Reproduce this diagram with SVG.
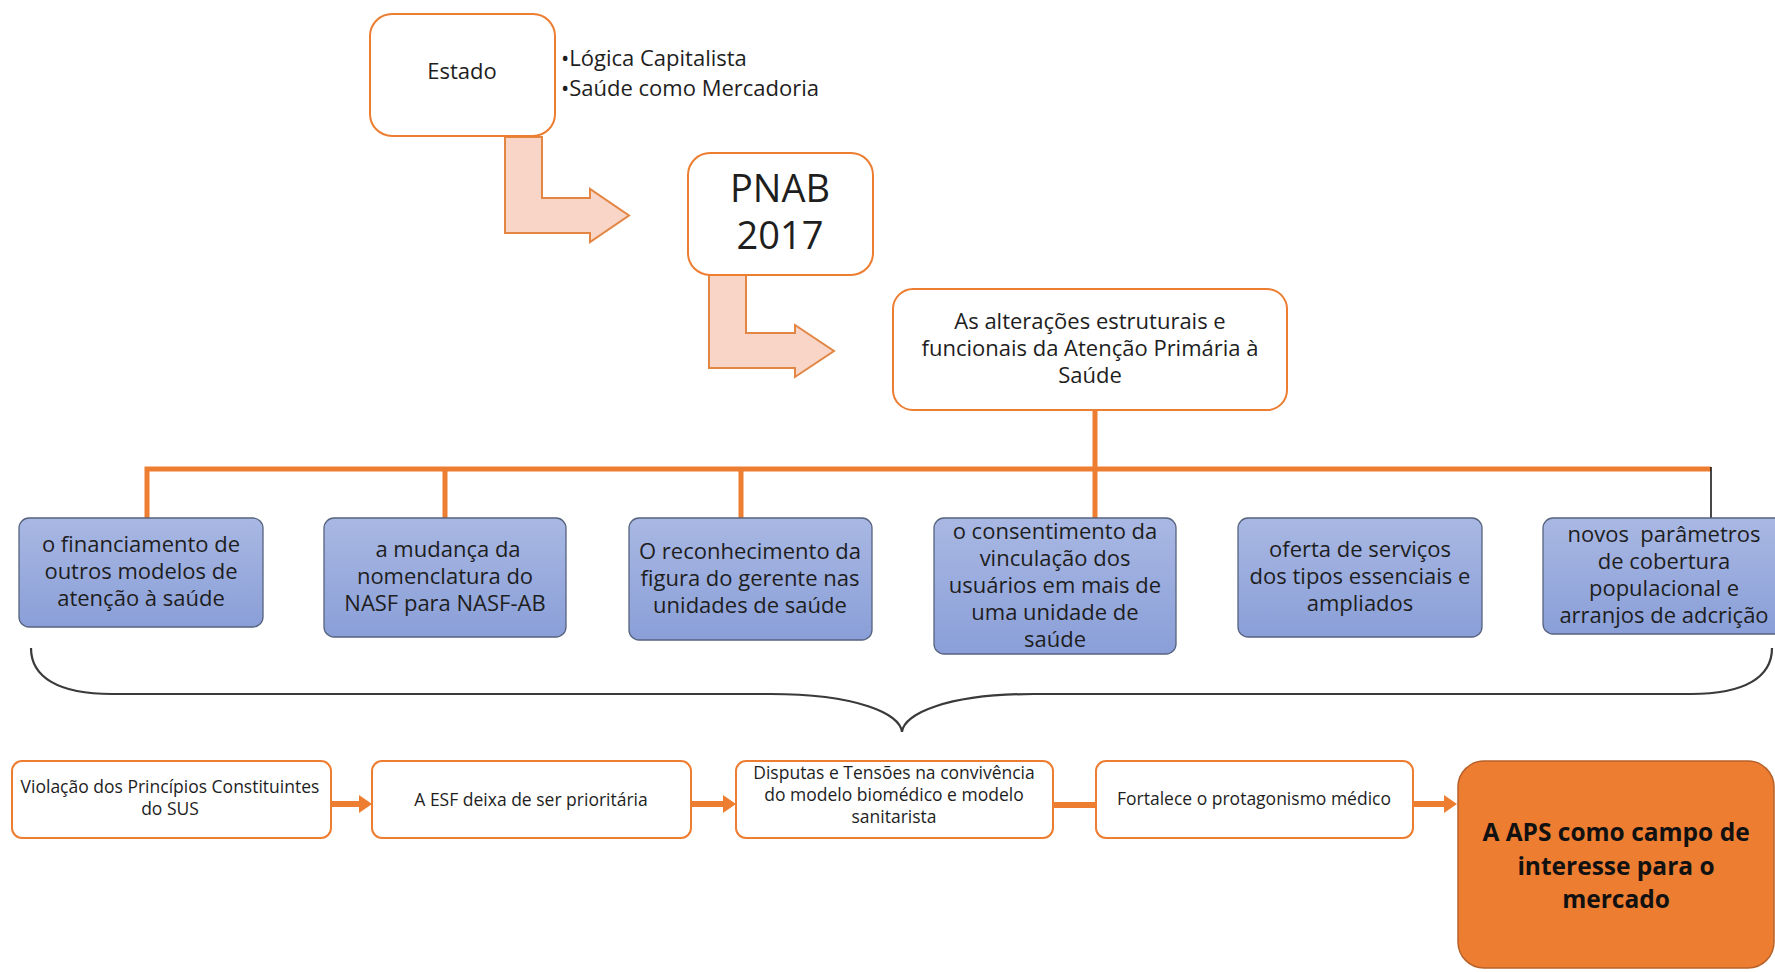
<svg xmlns="http://www.w3.org/2000/svg" width="1775" height="972" viewBox="0 0 1775 972">
<defs>
<linearGradient id="blueGrad" x1="0" y1="0" x2="0" y2="1">
<stop offset="0" stop-color="#A9B8E3"/>
<stop offset="1" stop-color="#8A9FD8"/>
</linearGradient>
<marker id="head" markerUnits="userSpaceOnUse" markerWidth="14" markerHeight="18" refX="0" refY="9" orient="auto" viewBox="0 0 14 18">
<path d="M0,0 L13,9 L0,18 z" fill="#ED7D31"/>
</marker>
</defs>
<style>
text{font-family:"Open Sans","Noto Sans",sans-serif;fill:#1e1e1e;text-anchor:middle}
.wbox{fill:#fff;stroke:#ED7D31;stroke-width:2}
.bbox{fill:url(#blueGrad);stroke:#56637F;stroke-width:1.3}
.bent{fill:#F8D5C7;stroke:#E38543;stroke-width:2;stroke-linejoin:miter}
.t22{font-size:22px}
.t21{font-size:22px}
.t17{font-size:17.5px}
.conn{fill:none;stroke:#ED7D31;stroke-width:5}
.arr{fill:none;stroke:#ED7D31;stroke-width:6}
.brace{fill:none;stroke:#3a3a3a;stroke-width:2.2}
.big{font-size:24.5px;font-weight:bold;fill:#111}
</style>
<rect width="1775" height="972" fill="#fff"/>

<g id="connectors">
<polygon class="bent" points="505,137 542,137 542,198 590,198 590,189 629,215.5 590,242 590,233 505,233"/>
<polygon class="bent" points="709,275 746,275 746,333 795,333 795,325 834,351 795,377 795,368 709,368"/>
<path class="conn" d="M147,518 V469 H1711" stroke-linejoin="miter"/>
<line class="conn" x1="1095" y1="410" x2="1095" y2="518"/>
<line class="conn" x1="445" y1="469" x2="445" y2="518"/>
<line class="conn" x1="741" y1="469" x2="741" y2="518"/>
<line x1="1711" y1="467" x2="1711" y2="518" stroke="#1a1a1a" stroke-width="1.6"/>
<path class="brace" d="M31,648 C31,677 58,694 112,694 L770,694 C858,694 900,714 902,732 C904,714 946,694 1034,694 L1691,694 C1745,694 1772,677 1772,648"/>
<line class="arr" x1="331" y1="804" x2="359" y2="804" marker-end="url(#head)"/>
<line class="arr" x1="691" y1="804" x2="723" y2="804" marker-end="url(#head)"/>
<line class="arr" x1="1053" y1="805" x2="1096" y2="805"/>
<line class="arr" x1="1413" y1="804" x2="1444" y2="804" marker-end="url(#head)"/>
</g>

<g id="estado">
<rect class="wbox" x="370" y="14" width="185" height="122" rx="22"/>
<text class="t22" x="462" y="79">Estado</text>
</g>
<g id="bullets">
<text class="t22" style="text-anchor:start"><tspan x="561" y="66">•Lógica Capitalista</tspan><tspan x="561" y="96">•Saúde como Mercadoria</tspan></text>
</g>

<g id="pnab">
<rect class="wbox" x="688" y="153" width="185" height="122" rx="22"/>
<text style="font-size:38px"><tspan x="780" y="202">PNAB</tspan><tspan x="780" y="249">2017</tspan></text>
</g>

<g id="alteracoes">
<rect class="wbox" x="893" y="289" width="394" height="121" rx="20"/>
<text class="t22"><tspan x="1090" y="329">As alterações estruturais e</tspan><tspan x="1090" y="356">funcionais da Atenção Primária à</tspan><tspan x="1090" y="383">Saúde</tspan></text>
</g>

<g id="b1">
<rect class="bbox" x="19" y="518" width="244" height="109" rx="10"/>
<text class="t21"><tspan x="141" y="552">o financiamento de</tspan><tspan x="141" y="579">outros modelos de</tspan><tspan x="141" y="606">atenção à saúde</tspan></text>
</g>
<g id="b2">
<rect class="bbox" x="324" y="518" width="242" height="119" rx="10"/>
<text class="t21"><tspan x="448" y="557">a mudança da</tspan><tspan x="445" y="584">nomenclatura do</tspan><tspan x="445" y="611">NASF para NASF-AB</tspan></text>
</g>
<g id="b3">
<rect class="bbox" x="629" y="518" width="243" height="122" rx="10"/>
<text class="t21"><tspan x="750" y="559">O reconhecimento da</tspan><tspan x="750" y="586">figura do gerente nas</tspan><tspan x="750" y="613">unidades de saúde</tspan></text>
</g>
<g id="b4">
<rect class="bbox" x="934" y="518" width="242" height="136" rx="10"/>
<text class="t21"><tspan x="1055" y="539">o consentimento da</tspan><tspan x="1055" y="566">vinculação dos</tspan><tspan x="1055" y="593">usuários em mais de</tspan><tspan x="1055" y="620">uma unidade de</tspan><tspan x="1055" y="647">saúde</tspan></text>
</g>
<g id="b5">
<rect class="bbox" x="1238" y="518" width="244" height="119" rx="10"/>
<text class="t21"><tspan x="1360" y="557">oferta de serviços</tspan><tspan x="1360" y="584">dos tipos essenciais e</tspan><tspan x="1360" y="611">ampliados</tspan></text>
</g>
<g id="b6">
<rect class="bbox" x="1543" y="518" width="244" height="116" rx="10"/>
<text class="t21" style="white-space:pre"><tspan x="1664" y="542">novos  parâmetros</tspan><tspan x="1664" y="569">de cobertura</tspan><tspan x="1664" y="596">populacional e</tspan><tspan x="1664" y="623">arranjos de adcrição</tspan></text>
</g>

<g id="c1">
<rect class="wbox" x="12" y="761" width="319" height="77" rx="10"/>
<text class="t17"><tspan x="170" y="793">Violação dos Princípios Constituintes</tspan><tspan x="170" y="815">do SUS</tspan></text>
</g>
<g id="c2">
<rect class="wbox" x="372" y="761" width="319" height="77" rx="10"/>
<text class="t17" x="531" y="806">A ESF deixa de ser prioritária</text>
</g>
<g id="c3">
<rect class="wbox" x="736" y="761" width="317" height="77" rx="10"/>
<text class="t17"><tspan x="894" y="779">Disputas e Tensões na convivência</tspan><tspan x="894" y="801">do modelo biomédico e modelo</tspan><tspan x="894" y="823">sanitarista</tspan></text>
</g>
<g id="c4">
<rect class="wbox" x="1096" y="761" width="317" height="77" rx="10"/>
<text class="t17" x="1254" y="805">Fortalece o protagonismo médico</text>
</g>
<g id="c5">
<rect x="1458" y="761" width="316" height="207" rx="26" fill="#ED7D31" stroke="#B8622A" stroke-width="1.5"/>
<text class="big"><tspan x="1616" y="841">A APS como campo de</tspan><tspan x="1616" y="874.5">interesse para o</tspan><tspan x="1616" y="908">mercado</tspan></text>
</g>
</svg>
